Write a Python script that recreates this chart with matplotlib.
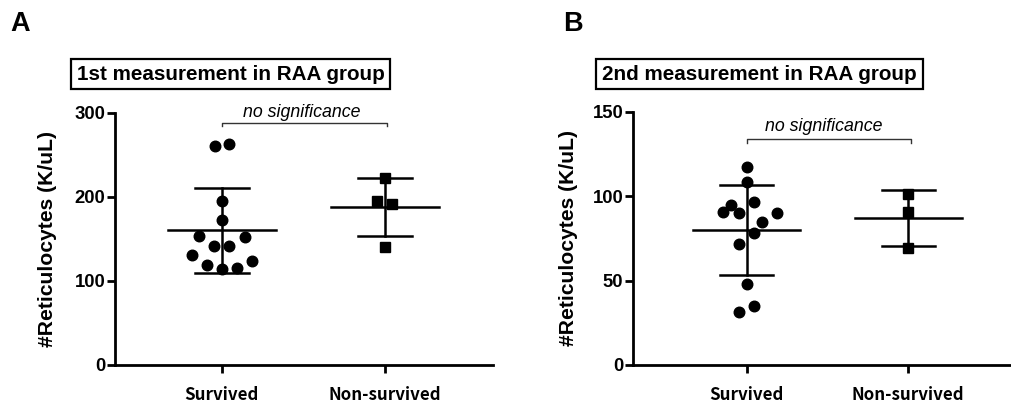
import numpy as np
import matplotlib.pyplot as plt

# values (K/uL)
groups = ['Survived', 'Non-survived']

a_survived = [260.7, 263.0, 195.0, 172.6, 153.6, 152.0, 141.7, 141.7,
              131.0, 123.8, 119.0, 114.0, 115.5]
a_nonsurvived = [223.0, 195.0, 191.7, 140.5]

b_survived = [117.5, 108.3, 96.4, 94.7, 90.7, 89.7, 90.1, 84.8, 78.4,
              71.5, 48.2, 35.0, 31.2]
b_nonsurvived = [101.4, 90.5, 69.0]

# horizontal scatter offsets of the dots (category units)
a_surv_jit = [-0.043, 0.043, 0, 0, -0.141, 0.141, -0.046, 0.046,
              -0.184, 0.184, -0.092, 0, 0.092]
a_non_jit = [0, -0.05, 0.045, 0]
b_surv_jit = [0, 0, 0.047, -0.097, -0.144, -0.047, 0.186, 0.095, 0.047,
              -0.047, 0, 0.047, -0.047]
b_non_jit = [0, 0, 0]

a_ticks = [0, 100, 200, 300]
b_ticks = [0, 50, 100, 150]

TICKFONT = 'Liberation Sans'
CATFONT = 'Noto Sans CJK KR'


def panel(ax, surv, non, sj, nj, yticks, xlim):
    for i, (vals, jit, mk) in enumerate([(surv, sj, 'o'), (non, nj, 's')]):
        vals = np.array(vals)
        xs = i + np.array(jit)
        ax.plot(xs, vals, mk, color='black', markersize=7.6, zorder=3,
                clip_on=False)
        m = vals.mean()
        sd = vals.std(ddof=1)
        ax.plot([i - 0.33, i + 0.33], [m, m], color='black', lw=1.8)
        ax.plot([i - 0.164, i + 0.164], [m + sd, m + sd], color='black', lw=1.8)
        ax.plot([i - 0.164, i + 0.164], [m - sd, m - sd], color='black', lw=1.8)
        ax.plot([i, i], [m - sd, m + sd], color='black', lw=1.8)
    ax.set_xlim(*xlim)
    ax.set_ylim(yticks[0], yticks[-1])
    ax.set_yticks(yticks)
    ax.set_xticks([0, 1])
    ax.set_xticklabels(groups, fontfamily=CATFONT, fontweight='bold',
                       fontsize=12.2)
    ax.set_yticklabels([str(t) for t in yticks], fontfamily=TICKFONT,
                       fontweight='bold', fontsize=13.3)
    for s in ['top', 'right']:
        ax.spines[s].set_visible(False)
    for s in ['left', 'bottom']:
        ax.spines[s].set_linewidth(2.0)
    ax.tick_params(axis='y', length=6, width=2.0, pad=1)
    ax.tick_params(axis='x', length=6, width=2.0, pad=9)
    ax.set_ylabel('#Reticulocytes (K/uL)', fontfamily=TICKFONT,
                  fontweight='bold', fontsize=15.2)


fig = plt.figure(figsize=(10.11, 4.07), dpi=100)

ax1 = fig.add_axes([0.1137, 0.1032, 0.3739, 0.6195])
panel(ax1, a_survived, a_nonsurvived, a_surv_jit, a_non_jit, a_ticks,
      (-0.656, 1.663))
ax1.yaxis.set_label_coords(-0.153, 0.5)
ax1.plot([0, 0, 1.01, 1.01], [284.5, 288.5, 288.5, 284.5], color='#333333',
         lw=1.0, clip_on=False)
ax1.text(0.488, 301, 'no significance', style='italic', fontsize=12.8,
         fontfamily=TICKFONT, ha='center', va='center')

ax2 = fig.add_axes([0.6261, 0.1032, 0.3729, 0.6225])
panel(ax2, b_survived, b_nonsurvived, b_surv_jit, b_non_jit, b_ticks,
      (-0.703, 1.63))
ax2.yaxis.set_label_coords(-0.146, 0.5)
ax2.plot([0, 0, 1.02, 1.02], [131.4, 133.8, 133.8, 131.4], color='#333333',
         lw=1.0, clip_on=False)
ax2.text(0.478, 141, 'no significance', style='italic', fontsize=12.8,
         fontfamily=TICKFONT, ha='center', va='center')

# boxed titles and panel letters
box = dict(boxstyle='square,pad=0.28', facecolor='white', edgecolor='black',
           linewidth=1.6)
fig.text(230.5 / 1011, 1 - 74 / 407, '1st measurement in RAA group',
         fontfamily=TICKFONT, fontweight='bold', fontsize=14.9,
         ha='center', va='center', bbox=box)
fig.text(759.5 / 1011, 1 - 74 / 407, '2nd measurement in RAA group',
         fontfamily=TICKFONT, fontweight='bold', fontsize=14.9,
         ha='center', va='center', bbox=box)
fig.text(10 / 1011, 1 - 24 / 407, 'A', fontfamily=TICKFONT,
         fontweight='bold', fontsize=19.5, ha='left', va='center')
fig.text(563 / 1011, 1 - 24 / 407, 'B', fontfamily=TICKFONT,
         fontweight='bold', fontsize=19.5, ha='left', va='center')

fig.savefig('out.png', dpi=100)
